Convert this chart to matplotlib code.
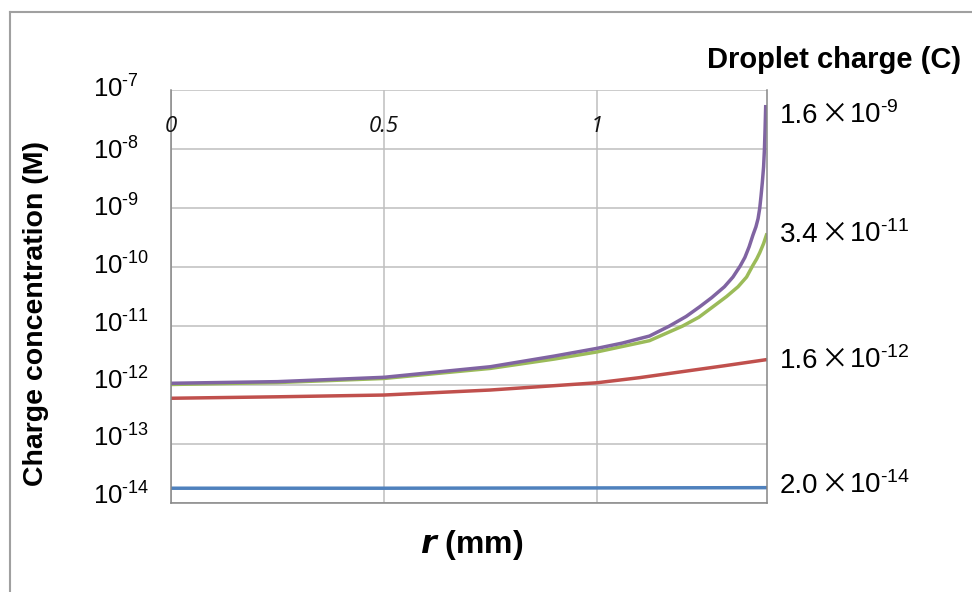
import matplotlib
matplotlib.use("Agg")
import matplotlib.pyplot as plt
from matplotlib.lines import Line2D
from matplotlib.offsetbox import TextArea, HPacker, AnnotationBbox
from matplotlib.transforms import blended_transform_factory, ScaledTranslation

plt.rcParams['font.family'] = ['Liberation Sans', 'DejaVu Sans']
plt.rcParams['mathtext.fontset'] = 'custom'
plt.rcParams['mathtext.rm'] = 'Liberation Sans'
plt.rcParams['mathtext.it'] = 'Liberation Sans:italic'
plt.rcParams['mathtext.bf'] = 'Liberation Sans:bold'

# ---- data ----
r_purple = [0, 0.25, 0.5, 0.75, 0.9, 1.0, 1.06, 1.124, 1.171, 1.21, 1.242, 1.27,
            1.300, 1.32, 1.337, 1.348, 1.358, 1.367, 1.374, 1.379, 1.383, 1.386, 1.389,
            1.392, 1.394, 1.3955, 1.397]
c_purple = [1.07e-12, 1.14e-12, 1.35e-12, 2.04e-12, 3.09e-12, 4.17e-12, 5.13e-12, 6.76e-12,
            1.0e-11, 1.45e-11, 2.12e-11, 3.02e-11, 4.63e-11, 6.76e-11, 1.04e-10, 1.45e-10,
            2.2e-10, 3.48e-10, 4.8e-10, 6.6e-10, 1.0e-9, 1.6e-9, 2.7e-9,
            5.0e-9, 1.0e-8, 2.2e-8, 5.57e-8]

r_green = [0, 0.25, 0.5, 0.75, 0.9, 1.0, 1.124, 1.202, 1.24, 1.273, 1.305, 1.332,
           1.352, 1.366, 1.376, 1.383, 1.392, 1.40]
c_green = [1.02e-12, 1.10e-12, 1.29e-12, 1.91e-12, 2.75e-12, 3.63e-12, 5.64e-12, 1.0e-11,
           1.41e-11, 2.12e-11, 3.16e-11, 4.63e-11, 6.76e-11, 1.04e-10, 1.38e-10, 1.75e-10,
           2.5e-10, 3.72e-10]

r_red = [0, 0.25, 0.5, 0.75, 1.0, 1.1, 1.22, 1.3, 1.4]
c_red = [5.96e-13, 6.31e-13, 6.76e-13, 8.22e-13, 1.09e-12, 1.33e-12, 1.76e-12, 2.12e-12, 2.70e-12]

r_blue = [0, 0.5, 1.0, 1.4]
c_blue = [1.78e-14, 1.78e-14, 1.80e-14, 1.82e-14]

x_ticks = [0, 0.5, 1]
x_ticklabels = ['0', '0.5', '1']
y_exponents = [-14, -13, -12, -11, -10, -9, -8, -7]

curve_mantissas = ['1.6', '3.4', '1.6', '2.0']
curve_exponents = [-9, -11, -12, -14]

series = [
    (r_blue, c_blue, '#4F81BD'),
    (r_red, c_red, '#C0504D'),
    (r_green, c_green, '#9BBB59'),
    (r_purple, c_purple, '#8064A2'),
]


def pow10(e):
    # superscript written with a short hyphen, as in the reference
    return r'10$^{\text{-}%d}$' % abs(e)


# ---- figure ----
W, H = 972, 592
fig = plt.figure(figsize=(W / 100, H / 100), dpi=100)
ax = fig.add_axes([171 / W, 1 - 503 / H, (767 - 171) / W, (503 - 90) / H])

for r, c, col in series:
    ax.plot(r, c, color=col, lw=2.5, solid_capstyle='butt', solid_joinstyle='round')

ax.set_yscale('log')
ax.set_xlim(0, 1.4)
ax.set_ylim(1e-14, 1e-7)
ax.set_yticks([10.0 ** e for e in y_exponents])
ax.set_yticklabels([])
ax.yaxis.set_minor_locator(matplotlib.ticker.NullLocator())
ax.tick_params(axis='y', length=0)

# y tick labels, left aligned as in the reference (baseline a few px below gridline)
label_drop_px = [1.2, 2.2, 4.2, 6.2, 7.2, 8.2, 10.2, 7.2]
ytrans = blended_transform_factory(ax.transAxes, ax.transData)
for e, dp in zip(y_exponents, label_drop_px):
    ax.text(-(171 - 93) / 596, 10.0 ** e, pow10(e), fontsize=18.5, ha='left', va='baseline',
            transform=ytrans + ScaledTranslation(0, -dp / 100.0, fig.dpi_scale_trans))

ax.set_xticks(x_ticks)
ax.set_xticklabels([])
ax.tick_params(axis='x', length=0)
for xv, xl in zip(x_ticks, x_ticklabels):
    ax.text(xv, 0.912, xl, transform=ax.get_xaxis_transform(), ha='center', va='center',
            fontsize=16, fontstyle='italic', family=['Open Sans', 'DejaVu Sans'], color='#111111')

ax.grid(True, color='#BFBFBF', lw=1.1)
ax.set_axisbelow(True)
for s in ['left', 'bottom', 'right']:
    ax.spines[s].set_color('#868686')
    ax.spines[s].set_linewidth(1.1)
ax.spines['top'].set_visible(False)

ax.set_ylabel('Charge concentration (M)', fontsize=20.5, fontweight='bold')
ax.yaxis.set_label_coords(-0.205, 0.458)
ax.set_xlabel(r'$\boldsymbol{r}$ (mm)', fontsize=23, fontweight='bold')
ax.xaxis.set_label_coords(0.505, -0.06)

# right-side labels: mantissa, wide multiplication sign, power of ten
baselines = [123, 242, 368, 493]
for m, e, b in zip(curve_mantissas, curve_exponents, baselines):
    parts = [
        TextArea(m, textprops=dict(fontsize=20)),
        TextArea('\u00d7', textprops=dict(fontsize=20,
                                          family=['Noto Sans CJK JP', 'DejaVu Sans'])),
        TextArea(pow10(e), textprops=dict(fontsize=20)),
    ]
    pack = HPacker(children=parts, align='baseline', pad=0, sep=1)
    ab = AnnotationBbox(pack, (780, H - b - 7), xycoords='figure pixels',
                        box_alignment=(0, 0), frameon=False, pad=0,
                        annotation_clip=False)
    ax.add_artist(ab)

fig.text(707 / W, 1 - 60 / H, 'Droplet charge (C)', fontsize=21, fontweight='bold',
         ha='left', va='center')

# outer frame (partially cropped in the reference)
fig.add_artist(Line2D([10 / W, 10 / W], [0, 1 - 12 / H], color='#A0A0A0', lw=1.5,
                      transform=fig.transFigure))
fig.add_artist(Line2D([10 / W, 1], [1 - 12 / H, 1 - 12 / H], color='#A0A0A0', lw=1.5,
                      transform=fig.transFigure))

fig.savefig('out.png', dpi=100)
